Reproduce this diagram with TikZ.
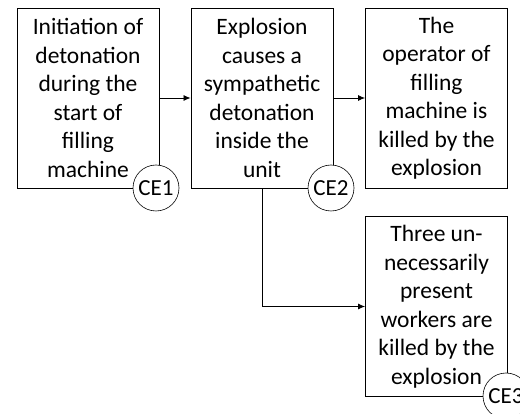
\documentclass[tikz,border=0pt]{standalone}
\usepackage{fontspec}
\setmainfont{Carlito}
\usetikzlibrary{arrows.meta}
\begin{document}
\begin{tikzpicture}[x=1pt,y=-1pt,
 box/.style={draw, line width=0.9pt, minimum width=142pt, minimum height=180pt, inner sep=0pt, align=center, font=\fontsize{23.5}{28.5}\selectfont},
 ce/.style={draw, circle, fill=white, line width=0.6pt, minimum size=46pt, inner sep=0pt, font=\fontsize{23}{25}\selectfont},
 arr/.style={-{Latex[length=7pt,width=6pt]}, line width=0.8pt}]
\useasboundingbox (0,0) rectangle (520,414);
\node[box] (b1) at (88,98) {Initiation of\\detonation\\during the\\start of\\filling\\machine};
\node[box] (b2) at (262,98) {Explosion\\causes a\\sympathetic\\detonation\\inside the\\unit};
\node[box] (b3) at (436.5,98) {The\\operator of\\filling\\machine is\\killed by the\\explosion};
\node[box] (b4) at (436.5,306.5) {Three un-\\necessarily\\present\\workers are\\killed by the\\explosion};
\draw[arr] (b1.east) -- (b2.west);
\draw[arr] (b2.east) -- (b3.west);
\draw[arr] (b2.south) |- (b4.west);
\node[ce] (c1) at (156,188) {CE1};
\node[ce] (c2) at (331,188) {CE2};
\node[ce] (c3) at (506,396) {CE3};
\end{tikzpicture}
\end{document}
